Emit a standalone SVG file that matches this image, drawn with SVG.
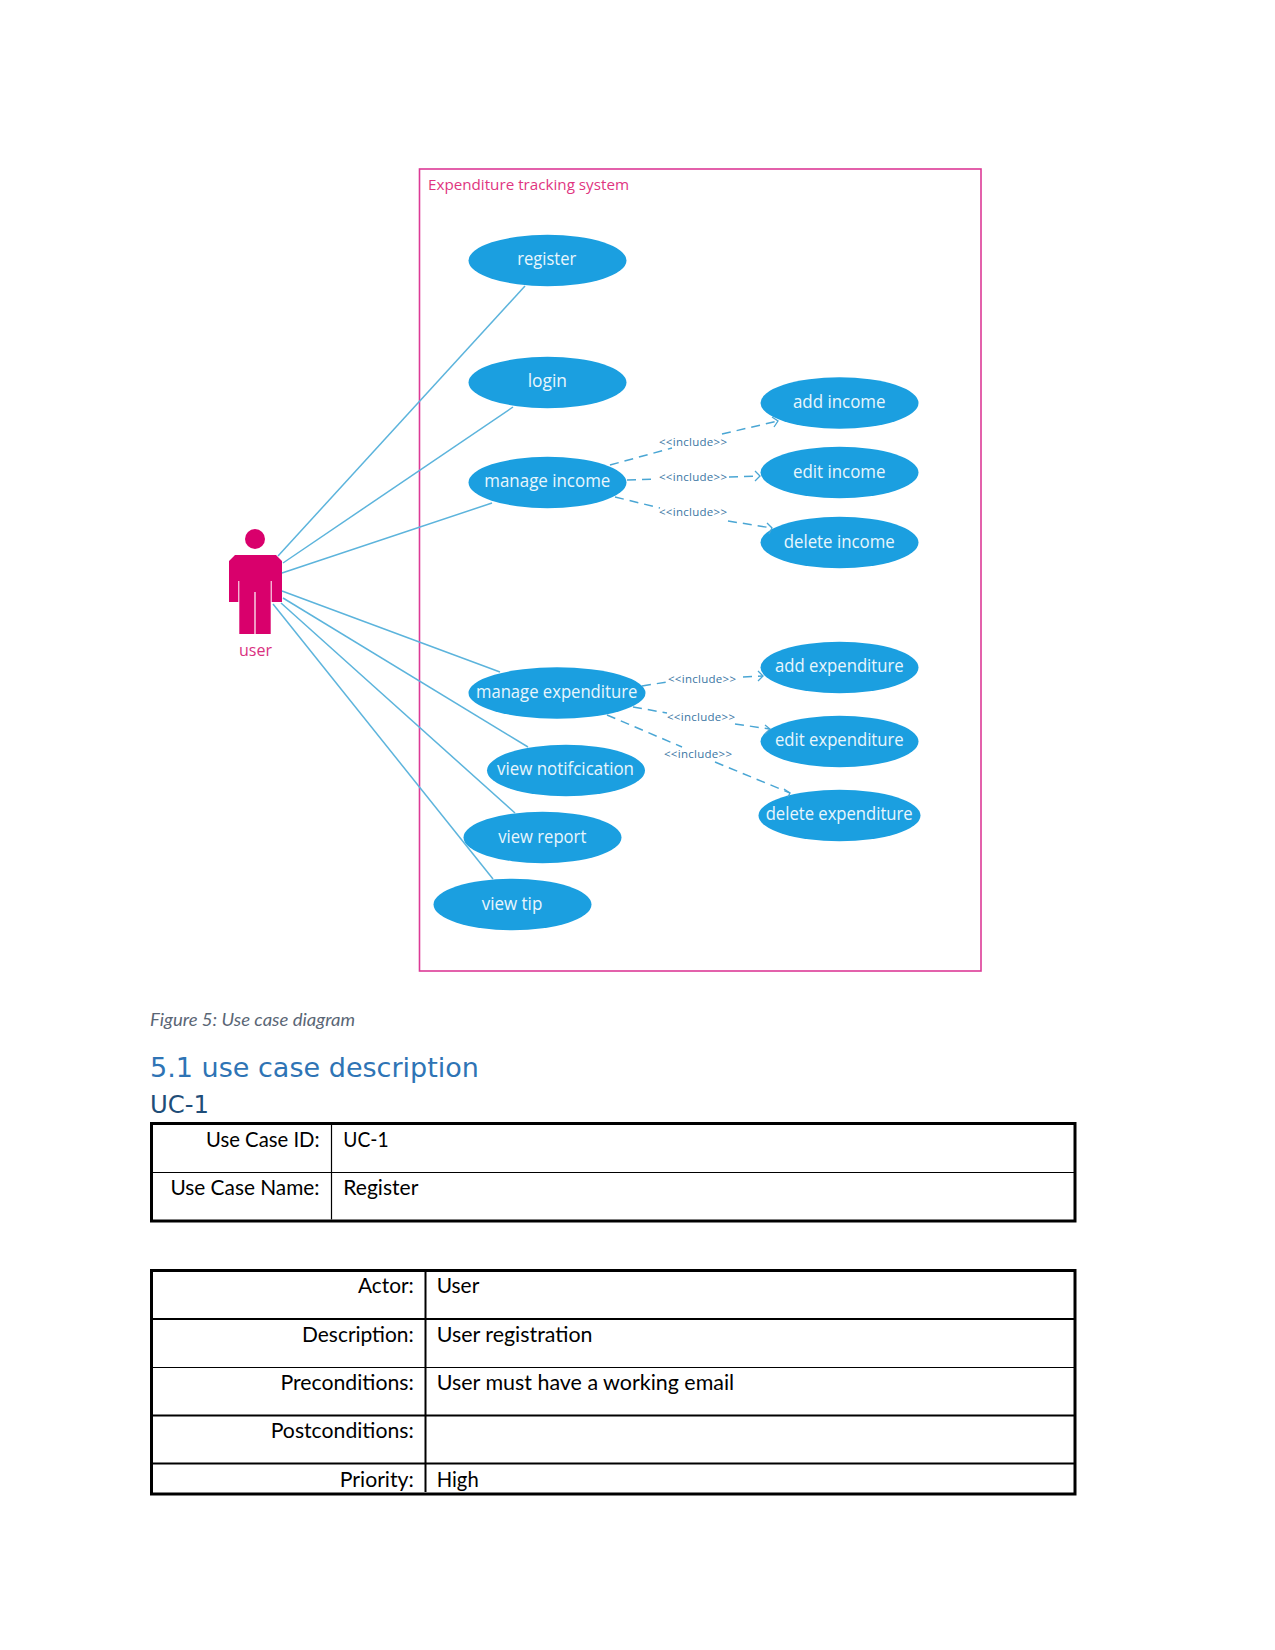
<svg xmlns="http://www.w3.org/2000/svg" width="1275" height="1650" viewBox="0 0 1275 1650">
<style>
.uc{fill:#1b9fe0}
.ul{font:18px "Open Sans","Liberation Sans",sans-serif;fill:#e8f6fd}
.assoc{stroke:#5cb4dc;stroke-width:1.5;fill:none}
.dash{stroke:#4aa6d4;stroke-width:1.5;fill:none;stroke-dasharray:9 6}
.tip{stroke:#4aa6d4;stroke-width:1.3;fill:none}
.inc{font:11.5px "Open Sans","Liberation Sans",sans-serif;fill:#3a76a3}
.cell{font:22px Lato,"Liberation Sans",sans-serif;fill:#000}
.tb{stroke:#000;fill:none}
</style>
<rect width="1275" height="1650" fill="#fff"/>
<g id="system-boundary">
<rect x="419.5" y="169" width="561.5" height="802" fill="none" stroke="#dc3a96" stroke-width="1.6"/>
<text x="428" y="190" font-family="Open Sans, Liberation Sans, sans-serif" font-size="15" fill="#e0357f" textLength="201" lengthAdjust="spacingAndGlyphs">Expenditure tracking system</text>
</g>
<g id="actor-user">
<circle cx="255" cy="539" r="10" fill="#d9006c"/>
<path fill="#d9006c" d="M235 555H276L282 561V602H271.7V581H270.7V634H255.6V592H254.4V634H239.3V581H238.3V602H229V561Z"/>
<text x="239" y="656" font-family="Open Sans, Liberation Sans, sans-serif" font-size="17" fill="#d9307f" textLength="33" lengthAdjust="spacingAndGlyphs">user</text>
</g>
<g id="uc-register"><ellipse class="uc" cx="547.5" cy="260.5" rx="79" ry="25.7"/><text class="ul" x="517.3" y="265" textLength="59" lengthAdjust="spacingAndGlyphs">register</text></g>
<g id="uc-login"><ellipse class="uc" cx="547.5" cy="382.5" rx="79" ry="25.7"/><text class="ul" x="527.7" y="387" textLength="39.3" lengthAdjust="spacingAndGlyphs">login</text></g>
<g id="uc-manage-income"><ellipse class="uc" cx="547.5" cy="482.5" rx="79" ry="25.7"/><text class="ul" x="484.3" y="486.7" textLength="126" lengthAdjust="spacingAndGlyphs">manage income</text></g>
<g id="uc-add-income"><ellipse class="uc" cx="839.5" cy="403" rx="79" ry="25.7"/><text class="ul" x="792.9" y="408" textLength="92.6" lengthAdjust="spacingAndGlyphs">add income</text></g>
<g id="uc-edit-income"><ellipse class="uc" cx="839.5" cy="472.5" rx="79" ry="25.7"/><text class="ul" x="792.9" y="478" textLength="92.6" lengthAdjust="spacingAndGlyphs">edit income</text></g>
<g id="uc-delete-income"><ellipse class="uc" cx="839.5" cy="542.5" rx="79" ry="25.7"/><text class="ul" x="783.7" y="547.5" textLength="111" lengthAdjust="spacingAndGlyphs">delete income</text></g>
<g id="uc-manage-expenditure"><ellipse class="uc" cx="557" cy="693" rx="88.5" ry="25.7"/><text class="ul" x="476" y="698" textLength="161.3" lengthAdjust="spacingAndGlyphs">manage expenditure</text></g>
<g id="uc-add-expenditure"><ellipse class="uc" cx="839.5" cy="667.5" rx="79" ry="25.7"/><text class="ul" x="775" y="672.3" textLength="128.7" lengthAdjust="spacingAndGlyphs">add expenditure</text></g>
<g id="uc-edit-expenditure"><ellipse class="uc" cx="839.5" cy="741.5" rx="79" ry="25.7"/><text class="ul" x="775" y="746.3" textLength="128.7" lengthAdjust="spacingAndGlyphs">edit expenditure</text></g>
<g id="uc-delete-expenditure"><ellipse class="uc" cx="839.5" cy="815.5" rx="81" ry="25.7"/><text class="ul" x="765.7" y="820" textLength="147" lengthAdjust="spacingAndGlyphs">delete expenditure</text></g>
<g id="uc-view-notification"><ellipse class="uc" cx="566" cy="770.5" rx="79" ry="25.7"/><text class="ul" x="497" y="775.3" textLength="137" lengthAdjust="spacingAndGlyphs">view notifcication</text></g>
<g id="uc-view-report"><ellipse class="uc" cx="542.5" cy="837.5" rx="79" ry="25.7"/><text class="ul" x="498.3" y="843" textLength="88" lengthAdjust="spacingAndGlyphs">view report</text></g>
<g id="uc-view-tip"><ellipse class="uc" cx="512.5" cy="904.5" rx="79" ry="25.7"/><text class="ul" x="481.7" y="910" textLength="60.6" lengthAdjust="spacingAndGlyphs">view tip</text></g>
<g id="connectors">
<path class="assoc" d="M278 556L525 286"/>
<path class="assoc" d="M283 563L513 407"/>
<path class="assoc" d="M282 573L492 503"/>
<path class="assoc" d="M282 591L500 672"/>
<path class="assoc" d="M283 598L528 747"/>
<path class="assoc" d="M281 603L515 813"/>
<path class="assoc" d="M273 604L493 879"/>
<path class="dash" d="M610 465L672 448M722 434L778 421"/>
<path class="tip" d="M772 417L778 421L774 427"/>
<path class="dash" d="M627 480L657 479M729 477L760 476"/>
<path class="tip" d="M755 471L760 476L755 481"/>
<path class="dash" d="M615 497L660 508M728 521L772 528"/>
<path class="tip" d="M767 523L772 528L769 534"/>
<path class="dash" d="M642 686L667 682M743 677L763 676"/>
<path class="tip" d="M758 671L763 676L758 681"/>
<path class="dash" d="M633 707L667 713M735 724L770 729"/>
<path class="tip" d="M765 725L770 729L765 734"/>
<path class="dash" d="M607 715L682 747M715 762L790 793"/>
<path class="tip" d="M784 789L790 793L788 797"/>
<text class="inc" x="659" y="446" textLength="68" lengthAdjust="spacing">&lt;&lt;include&gt;&gt;</text>
<text class="inc" x="659" y="481" textLength="68" lengthAdjust="spacing">&lt;&lt;include&gt;&gt;</text>
<text class="inc" x="659" y="516" textLength="68" lengthAdjust="spacing">&lt;&lt;include&gt;&gt;</text>
<text class="inc" x="668" y="683" textLength="68" lengthAdjust="spacing">&lt;&lt;include&gt;&gt;</text>
<text class="inc" x="667" y="720.5" textLength="68" lengthAdjust="spacing">&lt;&lt;include&gt;&gt;</text>
<text class="inc" x="664" y="758" textLength="68" lengthAdjust="spacing">&lt;&lt;include&gt;&gt;</text>
</g>
<g id="document-text">
<text x="150" y="1025.7" font-family="Lato, Liberation Sans, sans-serif" font-style="italic" font-size="18" fill="#5a6675" textLength="205" lengthAdjust="spacingAndGlyphs">Figure 5: Use case diagram</text>
<text x="150" y="1077" font-family="DejaVu Sans, sans-serif" font-size="27" fill="#2e74b5" textLength="329" lengthAdjust="spacingAndGlyphs">5.1 use case description</text>
<text x="150" y="1113" font-family="DejaVu Sans, sans-serif" font-size="25" fill="#1f4d78" textLength="59" lengthAdjust="spacingAndGlyphs">UC-1</text>
</g>
<g id="table-use-case">
<rect class="tb" x="151.5" y="1123.5" width="923.5" height="97.5" stroke-width="3"/>
<path class="tb" d="M153 1172.5H1074M331.5 1125V1219.5" stroke-width="1.2"/>
<text class="cell" x="206" y="1147" textLength="113.6" lengthAdjust="spacingAndGlyphs">Use Case ID:</text>
<text class="cell" x="343.3" y="1147" textLength="45.3" lengthAdjust="spacingAndGlyphs">UC-1</text>
<text class="cell" x="170.4" y="1195" textLength="149.2" lengthAdjust="spacingAndGlyphs">Use Case Name:</text>
<text class="cell" x="343.3" y="1195" textLength="75" lengthAdjust="spacingAndGlyphs">Register</text>
</g>
<g id="table-details">
<rect class="tb" x="151.5" y="1270.5" width="923.5" height="223.5" stroke-width="3"/>
<path class="tb" d="M153 1319H1074M153 1415.5H1074M153 1463.5H1074M425.5 1272V1492" stroke-width="2"/>
<path class="tb" d="M153 1367.5H1074" stroke-width="1.2"/>
<text class="cell" x="358" y="1293" textLength="55.8" lengthAdjust="spacingAndGlyphs">Actor:</text>
<text class="cell" x="436.7" y="1293" textLength="42.6" lengthAdjust="spacingAndGlyphs">User</text>
<text class="cell" x="302" y="1342" textLength="111.8" lengthAdjust="spacingAndGlyphs">Description:</text>
<text class="cell" x="436.7" y="1342" textLength="155.8" lengthAdjust="spacingAndGlyphs">User registration</text>
<text class="cell" x="280.4" y="1390.3" textLength="133.4" lengthAdjust="spacingAndGlyphs">Preconditions:</text>
<text class="cell" x="436.7" y="1390.3" textLength="297.5" lengthAdjust="spacingAndGlyphs">User must have a working email</text>
<text class="cell" x="270.7" y="1438.3" textLength="143.1" lengthAdjust="spacingAndGlyphs">Postconditions:</text>
<text class="cell" x="339.8" y="1487" textLength="74" lengthAdjust="spacingAndGlyphs">Priority:</text>
<text class="cell" x="436.7" y="1487" textLength="42" lengthAdjust="spacingAndGlyphs">High</text>
</g>
</svg>
